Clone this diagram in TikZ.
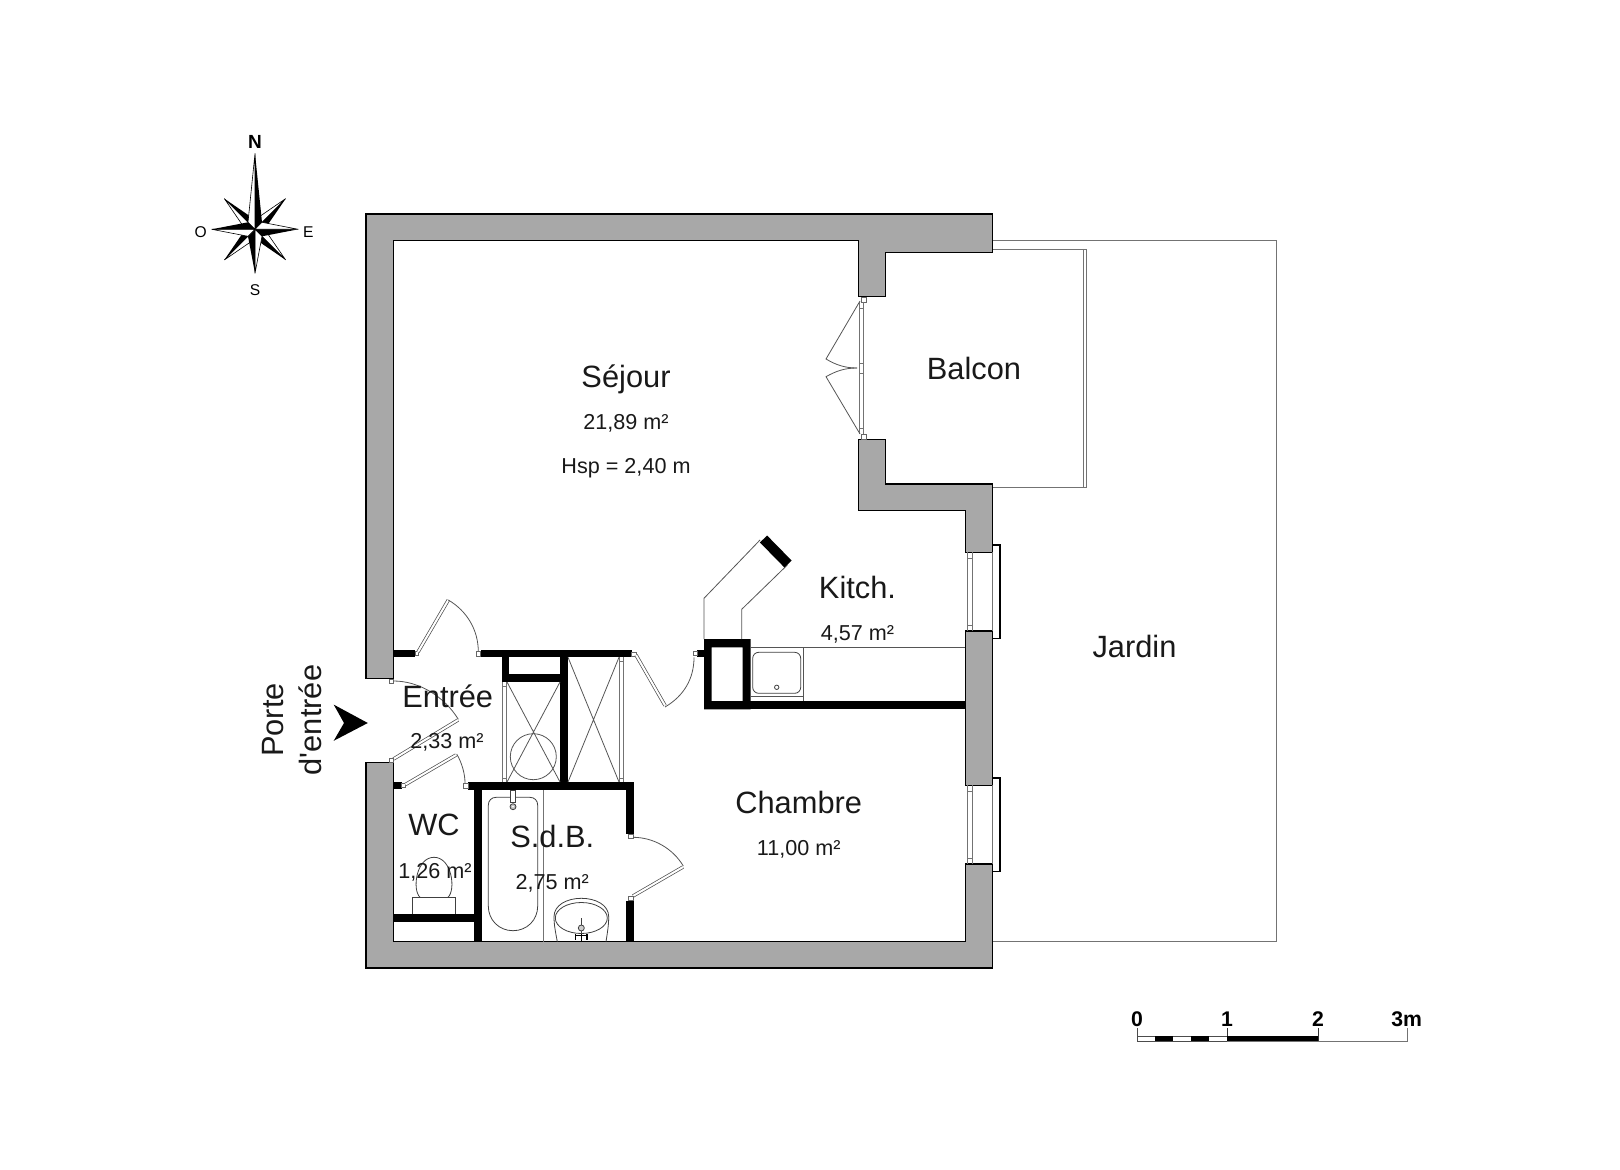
\documentclass[tikz,border=0pt]{standalone}
\usepackage{fontspec}
\setmainfont{Liberation Sans}
\newfontfamily\plainfont{Liberation Sans}
\definecolor{wallgrey}{HTML}{A8A8A8}
\definecolor{thinline}{HTML}{555555}
\tikzset{
  wall/.style={fill=wallgrey,draw=black,line width=0.6pt,line join=miter},
  part/.style={fill=black,draw=none},
  thin line/.style={draw=thinline,line width=0.4pt},
  pale/.style={draw=black!55,line width=0.45pt},
  leaf/.style={draw=black!70,line width=0.35pt,double=white,double distance=1pt},
  post/.style={draw=black!60,fill=white,line width=0.3pt},
  fixture/.style={draw=black!75,line width=0.4pt},
  roomlabel/.style={font=\fontsize{15.4}{18}\selectfont,inner sep=0pt,text=black!90},
  arealabel/.style={font=\fontsize{10.8}{13}\selectfont,inner sep=0pt,text=black!90},
  scalelabel/.style={font=\fontsize{10.6}{12}\selectfont\bfseries,inner sep=0pt},
  compasslabel/.style={font=\fontsize{7.8}{9}\selectfont,inner sep=0pt},
}
\begin{document}
\begin{tikzpicture}[x=0.5pt,y=-0.5pt]
\useasboundingbox (0,0) rectangle (1620,1170);

% Garden outline and balcony rail
\draw[pale] (992.7,240.7) -- (1276,240.7) -- (1276,941.7) -- (992.7,941.7);
\draw[pale] (992.7,249) -- (1086.7,249) -- (1086.7,487.7) -- (992.7,487.7);
\draw[pale] (1083.3,249) -- (1083.3,487.7);

% Grey load-bearing walls
\draw[wall] (366,214) -- (992.7,214) -- (992.7,252.3) -- (885.7,252.3) -- (885.7,296.7) -- (858.3,296.7) -- (858.3,240.7) -- (393.5,240.7) -- (393.5,678.7) -- (366,678.7) -- cycle;
\draw[wall] (858.3,439.3) -- (885.7,439.3) -- (885.7,484) -- (992.7,484) -- (992.7,552.3) -- (965.3,552.3) -- (965.3,510.7) -- (858.3,510.7) -- cycle;
\draw[wall] (965.3,631) rectangle (992.7,785.3);
\draw[wall] (965.3,864) -- (992.7,864) -- (992.7,968) -- (366,968) -- (366,762.7) -- (393.5,762.7) -- (393.5,941.7) -- (965.3,941.7) -- cycle;

% Windows in the east wall
\draw[line width=0.7pt] (992.7,545) -- (1000,545) -- (1000,638.7) -- (992.7,638.7);
\draw[line width=0.7pt] (992.7,778) -- (1000,778) -- (1000,871.7) -- (992.7,871.7);
\draw[pale] (992.7,552.3) -- (992.7,631);
\draw[pale] (992.7,785.3) -- (992.7,864);
\draw[pale] (967.3,552.3) -- (967.3,631) (972.7,552.3) -- (972.7,631) (967.3,558) -- (972.7,558) (967.3,625) -- (972.7,625);
\draw[pale] (967.3,785.3) -- (967.3,864) (972.7,785.3) -- (972.7,864) (967.3,791.7) -- (972.7,791.7) (967.3,858) -- (972.7,858);

% French door to the balcony
\draw[post] (861,297) rectangle (866,302);
\draw[post] (861,434) rectangle (866,439);
\draw[pale] (859.3,302) -- (859.3,434) (863.3,302) -- (863.3,434) (859.3,363) -- (863.3,363) (859.3,373) -- (863.3,373) (859.3,428) -- (863.3,428) (859.3,308) -- (863.3,308);
\draw[thin line] (860,301) -- (826,359) .. controls (836,365) and (845,368) .. (857,368);
\draw[thin line] (860,434) -- (826,376.7) .. controls (836,371) and (845,368) .. (857,368);

% Black partitions
\fill[part] (393.5,650) rectangle (415,657.3);
\fill[part] (480.7,650) rectangle (631.7,657.3);
\fill[part] (501.7,657) rectangle (509.3,681.7);
\fill[part] (501.7,674) rectangle (560,681.7);
\fill[part] (560,657) rectangle (567.7,782);
\fill[part] (468.3,781.7) rectangle (634,790);
\fill[part] (626,782) rectangle (634,834);
\fill[part] (626,900.7) rectangle (634,941.7);
\fill[part] (474,790) rectangle (481.7,941.7);
\fill[part] (393.5,914) rectangle (474,922);
\fill[part] (393.5,781.7) rectangle (401.7,789);
\fill[part] (697.3,650) rectangle (704,656.5);
\fill[part,even odd rule] (704,639) rectangle (750.7,709.3) (711.7,647.3) rectangle (742.7,701);
\fill[part] (750,701) rectangle (965.3,709.3);

% Kitchen duct hood and worktop
\draw[thin line] (704,639) -- (704,598.3) -- (760,540);
\draw[thin line] (741.7,639) -- (741.7,609.3) -- (787.3,565);
\draw[line width=5pt] (763.5,539) -- (788,564);
\draw[thin line] (750.7,647.3) -- (965.3,647.3);
\draw[thin line] (803.3,647.3) -- (803.3,701);
\draw[thin line] (750.7,696.7) -- (803.3,696.7);
\draw[fixture,rounded corners=3pt] (752.7,652.3) rectangle (800.7,693.3);
\draw[fixture] (776.7,687.3) circle[radius=2.2];

% Closets
\draw[pale] (502.3,682) -- (502.3,782) (506,682) -- (506,782) (502.3,686) -- (506,686) (502.3,778) -- (506,778);
\draw[pale] (619.3,657.3) -- (619.3,782) (623.3,657.3) -- (623.3,782) (619.3,661) -- (623.3,661) (619.3,778) -- (623.3,778);
\draw[thin line] (507,682) -- (560,782) (560,682) -- (507,782);
\draw[thin line] (568,657.3) -- (619,782) (619,657.3) -- (568,782);
\draw[thin line] (533.3,756.7) circle[radius=23];

% Doors
\draw[post] (415,651) rectangle (418.5,655.5);
\draw[leaf] (418,652) -- (448.3,600);
\draw[thin line] (448.3,600) .. controls (467,611) and (478.3,630) .. (478.3,651.7);
\draw[post] (476.7,651.5) rectangle (480.7,656.5);

\draw[post] (631.7,652) rectangle (636,656);
\draw[leaf] (636,655) -- (665,705.5);
\draw[thin line] (665,707) .. controls (683.8,696) and (694,678.8) .. (694,657.3);
\draw[post] (693.3,651.5) rectangle (697.3,655.5);

\draw[post] (389,679) rectangle (393.5,683);
\draw[thin line] (393.5,681) .. controls (419,681) and (444.2,696.3) .. (458.3,719.3);
\draw[leaf] (458,720) -- (393.5,759);
\draw[post] (389,758.5) rectangle (393.5,762.7);

\draw[post] (401.7,783) rectangle (405.5,787);
\draw[leaf] (405.5,784.5) -- (456,755);
\draw[thin line] (456.7,754) .. controls (462,763) and (465,774) .. (465,783);
\draw[post] (463.5,783) rectangle (468.3,788);

\draw[post] (628.3,834.5) rectangle (633,838.5);
\draw[thin line] (633,837.3) .. controls (653,837.3) and (672.5,848) .. (683.3,866);
\draw[leaf] (683,867) -- (633,896);
\draw[post] (628.3,896.5) rectangle (633,900.7);

% WC fixture
\draw[fixture] (412.3,914) -- (412.3,897.3) -- (455.7,897.3) -- (455.7,914);
\draw[fixture] (420,897.3) .. controls (412,890) and (416,857.3) .. (434,857.3) .. controls (452,857.3) and (456,890) .. (448,897.3);

% Bath
\draw[fixture] (496.3,797.3) -- (529.7,797.3) .. controls (534.5,797.3) and (537.7,800.5) .. (537.7,805.3) -- (537.7,906) .. controls (537.7,920) and (527,930.7) .. (513,930.7) .. controls (499,930.7) and (488.3,920) .. (488.3,906) -- (488.3,805.3) .. controls (488.3,800.5) and (491.5,797.3) .. (496.3,797.3) -- cycle;
\draw[fixture,fill=white] (510.7,790) rectangle (515.7,802);
\draw[fixture,fill=black!25] (513,806.7) circle[radius=3];
\fill[white] (513,806.7) circle[radius=1];
\draw[pale] (543.7,790) -- (543.7,941.7);

% Washbasin
\draw[fixture] (557.3,941.7) .. controls (555.5,932) and (554,925) .. (554,916.7) .. controls (554,905) and (567,898.3) .. (581.3,898.3) .. controls (596,898.3) and (608.7,905) .. (608.7,916.7) .. controls (608.7,925) and (607.5,932) .. (606,941.7);
\draw[fixture] (581.3,918) ellipse[x radius=26,y radius=15.5];
\draw[fixture] (581.3,918) -- (581.3,941);
\draw[fixture,fill=black!20] (581.3,928) circle[radius=3];
\draw[line width=0.6pt] (575,935.7) -- (587.5,935.7) (575.5,934) -- (575.5,940) (587,934) -- (587,940) (581.3,934) -- (581.3,941);

% Entrance arrow
\fill[black] (333.7,704.6) -- (367.8,723) -- (333.7,740.8) -- (344,723) -- cycle;

% Compass rose
\begin{scope}[shift={(255,229.3)}]
  \foreach \a in {0,-90,-180,-270} {
    \begin{scope}[rotate=\a]
      \draw[fill=white,line width=0.3pt] (30.7,-30.7) -- (2,-11) -- (0,0) -- cycle;
      \fill[black] (30.7,-30.7) -- (11,-2) -- (0,0) -- cycle;
    \end{scope}
  }
  \draw[fill=white,line width=0.3pt] (0,-76) -- (-7,-7) -- (0,0) -- cycle;
  \fill[black] (0,-76) -- (7,-7) -- (0,0) -- cycle;
  \draw[fill=white,line width=0.3pt] (0,44) -- (7,7) -- (0,0) -- cycle;
  \fill[black] (0,44) -- (-7,7) -- (0,0) -- cycle;
  \draw[fill=white,line width=0.3pt] (43.3,0) -- (7,-7) -- (0,0) -- cycle;
  \fill[black] (43.3,0) -- (7,7) -- (0,0) -- cycle;
  \draw[fill=white,line width=0.3pt] (-43.3,0) -- (-7,7) -- (0,0) -- cycle;
  \fill[black] (-43.3,0) -- (-7,-7) -- (0,0) -- cycle;
\end{scope}
\node[font=\fontsize{9.5}{11}\selectfont\bfseries,inner sep=0pt] (compassN) at (255,141.7) {N};
\node[compasslabel] (compassS) at (255,290) {S};
\node[compasslabel] (compassO) at (200.7,231.7) {O};
\node[compasslabel] (compassE) at (308.3,231.7) {E};

% Scale bar
\draw[pale] (1227.3,1041) -- (1407.3,1041) -- (1407.3,1028);
\draw[draw=black!70,line width=0.4pt] (1137.3,1028) -- (1137.3,1041) -- (1227.3,1041);
\draw[draw=black!70,line width=0.4pt] (1137.3,1036) -- (1227.3,1036);
\draw[draw=black!80,line width=0.4pt] (1227.3,1028) -- (1227.3,1041);
\draw[draw=black!80,line width=0.4pt] (1318,1028) -- (1318,1041);
\fill[black] (1155,1035.7) rectangle (1173.3,1041);
\fill[black] (1191,1035.7) rectangle (1209.3,1041);
\fill[black] (1227.3,1035.7) rectangle (1318,1041);
\node[scalelabel] (scale0) at (1137,1019.5) {0};
\node[scalelabel] (scale1) at (1227,1019.5) {1};
\node[scalelabel] (scale2) at (1318,1019.5) {2};
\node[scalelabel] (scale3) at (1406.7,1019.5) {3m};

% Labels
\node[roomlabel] (sejour) at (626,379) {Séjour};
\node[arealabel] (sejourarea) at (626,423.5) {21,89 m²};
\node[arealabel] (hsp) at (626,468.5) {Hsp = 2,40 m};
\node[roomlabel] (balcon) at (974,368) {Balcon};
\node[roomlabel] (kitch) at (857.5,587) {Kitch.};
\node[arealabel] (kitcharea) at (857.5,634.5) {4,57 m²};
\node[roomlabel] (jardin) at (1134.5,646) {Jardin};
\node[roomlabel] (chambre) at (798.7,802) {Chambre};
\node[arealabel] (chambrearea) at (798.7,849.5) {11,00 m²};
\node[roomlabel] (entree) at (447.7,696) {Entrée};
\node[arealabel] (entreearea) at (447,742.7) {2,33 m²};
\node[roomlabel] (wc) at (434,825) {WC};
\node[arealabel] (wcarea) at (435,872) {1,26 m²};
\node[roomlabel] (sdb) at (552.3,836.7) {S.d.B.};
\node[arealabel] (sdbarea) at (552.3,883.7) {2,75 m²};
\node[roomlabel,rotate=90] (porte) at (273,720) {Porte};
\node[roomlabel,rotate=90] (dentree) at (310,720) {\plainfont d'entrée};
\end{tikzpicture}
\end{document}
